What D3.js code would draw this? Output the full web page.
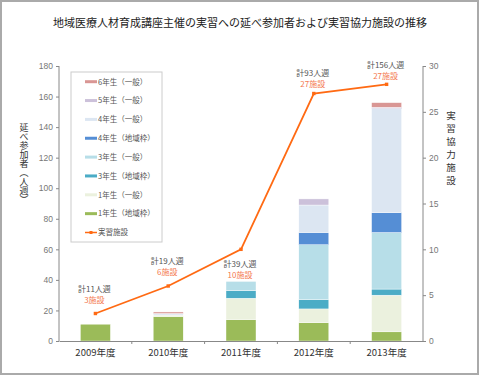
<!DOCTYPE html>
<html>
<head>
<meta charset="utf-8">
<script src="https://cdn.jsdelivr.net/npm/d3@7"></script>
<style>
  body { margin: 0; background: #fff; }
  svg { display: block; font-family: "Noto Sans CJK JP", "Noto Sans", sans-serif; }
  .vtitle { writing-mode: vertical-rl; text-orientation: upright; }
</style>
</head>
<body>
<svg id="chart" width="480" height="376"></svg>
<script>
const years = ["2009年度", "2010年度", "2011年度", "2012年度", "2013年度"];

// stacked from bottom to top
const seriesNames = ["1年生（地域枠）", "1年生（一般）", "3年生（地域枠）", "3年生（一般）",
  "4年生（地域枠）", "4年生（一般）", "5年生（一般）", "6年生（一般）"];
const g1Chiiki = [11, 16, 14, 12, 6];
const g1Ippan = [0, 1, 14, 9, 24];
const g3Chiiki = [0, 0, 5, 6, 4];
const g3Ippan = [0, 0, 6, 36, 37];
const g4Chiiki = [0, 0, 0, 8, 13];
const g4Ippan = [0, 1, 0, 18, 68];
const g5Ippan = [0, 0, 0, 4, 1];
const g6Ippan = [0, 1, 0, 0, 3];
const facilities = [3, 6, 10, 27, 28];
const totalLabels = ["計11人週", "計19人週", "計39人週", "計93人週", "計156人週"];
const facilityLabels = ["3施設", "6施設", "10施設", "27施設", "27施設"];
const leftTicks = [0, 20, 40, 60, 80, 100, 120, 140, 160, 180];
const rightTicks = [0, 5, 10, 15, 20, 25, 30];

const colors = ["#9bbb59", "#ebf1de", "#4bacc6", "#b7dee8", "#558ed5", "#dce6f2", "#ccc1da", "#d99694"];
const lineColor = "#ff6a13";
const labelOffset = [24, 25, -15, 20, 19];

const seriesValues = [g1Chiiki, g1Ippan, g3Chiiki, g3Ippan, g4Chiiki, g4Ippan, g5Ippan, g6Ippan];
let rows = years.map((y, i) => {
  let r = { year: y };
  seriesNames.forEach((s, k) => r[s] = seriesValues[k][i]);
  return r;
});

let svg = d3.select("#chart");

svg.append("rect")
  .attr("x", 1).attr("y", 1).attr("width", 477).attr("height", 373)
  .attr("fill", "#fff").attr("stroke", "#aaa").attr("stroke-width", 2);

svg.append("text")
  .attr("x", 240).attr("y", 27)
  .attr("text-anchor", "middle")
  .attr("font-size", "11px")
  .attr("fill", "#222")
  .text("地域医療人材育成講座主催の実習への延べ参加者および実習協力施設の推移");

let plotLeft = 59, plotRight = 423, plotTop = 66, plotBottom = 341;

let xScale = d3.scaleBand().domain(years).range([plotLeft, plotRight]).paddingInner(0).paddingOuter(0);
let yScale = d3.scaleLinear().domain([0, 180]).range([plotBottom, plotTop]);
let y2Scale = d3.scaleLinear().domain([0, 30]).range([plotBottom, plotTop]);
let barW = 30;

let stack = d3.stack().keys(seriesNames)(rows);

svg.append("g")
  .selectAll("g")
  .data(stack)
  .enter()
  .append("g")
  .attr("fill", (d, k) => colors[k])
  .selectAll("rect")
  .data(d => d)
  .enter()
  .append("rect")
  .attr("x", d => xScale(d.data.year) + xScale.bandwidth() / 2 - barW / 2)
  .attr("width", barW)
  .attr("y", d => yScale(d[1]))
  .attr("height", d => yScale(d[0]) - yScale(d[1]))
  .attr("stroke", "#fff")
  .attr("stroke-width", 0.4);

// axes
let axisColor = "#888";
let gl = svg.append("g")
  .attr("transform", "translate(" + plotLeft + ",0)")
  .call(d3.axisLeft(yScale).tickValues(leftTicks).tickSize(3).tickPadding(3));
let gr = svg.append("g")
  .attr("transform", "translate(" + plotRight + ",0)")
  .call(d3.axisRight(y2Scale).tickValues(rightTicks).tickSize(3).tickPadding(3));
let gx = svg.append("g")
  .attr("transform", "translate(0," + plotBottom + ")")
  .call(d3.axisBottom(xScale).tickSize(0).tickPadding(8));

[gl, gr, gx].forEach(g => {
  g.select(".domain").attr("stroke", axisColor);
  g.selectAll(".tick line").attr("stroke", axisColor);
  g.selectAll("text").attr("font-family", "Liberation Sans, sans-serif").attr("font-size", "8.5px").attr("fill", "#777");
});
gx.selectAll("text").attr("font-family", "Noto Sans CJK JP").attr("font-size", "9.5px").attr("fill", "#333");
gl.select(".domain").attr("d", "M0," + plotTop + "V" + plotBottom);
gr.select(".domain").attr("d", "M0," + plotTop + "V" + plotBottom);

// x ticks at category boundaries
svg.append("g")
  .selectAll("line")
  .data(years.slice(1))
  .enter()
  .append("line")
  .attr("x1", d => xScale(d)).attr("x2", d => xScale(d))
  .attr("y1", plotBottom).attr("y2", plotBottom + 3)
  .attr("stroke", axisColor);

// axis titles (vertical writing)
svg.append("text")
  .attr("class", "vtitle")
  .attr("x", 24).attr("y", 164)
  .attr("text-anchor", "middle")
  .attr("font-size", "9px")
  .attr("fill", "#333")
  .text("延べ参加者（人週）");

svg.append("text")
  .attr("class", "vtitle")
  .attr("x", 451).attr("y", 150)
  .attr("text-anchor", "middle")
  .attr("font-size", "9.5px")
  .attr("letter-spacing", "3.5px")
  .attr("fill", "#333")
  .text("実習協力施設");

// facility line
let cx = d => xScale(d) + xScale.bandwidth() / 2;
let line = d3.line()
  .x((d, i) => cx(years[i]))
  .y(d => y2Scale(d));

svg.append("path")
  .datum(facilities)
  .attr("d", line)
  .attr("fill", "none")
  .attr("stroke", lineColor)
  .attr("stroke-width", 1.8);

svg.selectAll(".pt")
  .data(facilities)
  .enter()
  .append("rect")
  .attr("class", "pt")
  .attr("x", (d, i) => cx(years[i]) - 1.7)
  .attr("y", d => y2Scale(d) - 1.7)
  .attr("width", 3.4).attr("height", 3.4)
  .attr("fill", lineColor);

// annotations
let ann = svg.append("g").attr("font-size", "8px").attr("text-anchor", "middle");
ann.selectAll(".tot")
  .data(totalLabels)
  .enter()
  .append("text")
  .attr("x", (d, i) => cx(years[i]) - 1)
  .attr("y", (d, i) => y2Scale(facilities[i]) - labelOffset[i] + 2.5)
  .attr("fill", "#555")
  .text(d => d);
ann.selectAll(".fac")
  .data(facilityLabels)
  .enter()
  .append("text")
  .attr("x", (d, i) => cx(years[i]) - 1)
  .attr("y", (d, i) => y2Scale(facilities[i]) - labelOffset[i] + 13.5)
  .attr("fill", "#f47a50")
  .text(d => d);

// legend
let legend = svg.append("g");
legend.append("rect")
  .attr("x", 71).attr("y", 72).attr("width", 91).attr("height", 170)
  .attr("fill", "#fff").attr("stroke", "#ccc");

let legendItems = seriesNames.map((s, k) => ({ name: s, color: colors[k], line: false })).reverse();
legendItems.push({ name: "実習施設", color: lineColor, line: true });

let li = legend.selectAll(".li")
  .data(legendItems)
  .enter()
  .append("g")
  .attr("transform", (d, i) => "translate(85," + (81.7 + i * 18.85) + ")");

li.append("line")
  .attr("x1", 0).attr("x2", 12)
  .attr("stroke", d => d.color)
  .attr("stroke-width", d => d.line ? 1.5 : 3);
li.filter(d => d.line)
  .append("rect")
  .attr("x", 4.5).attr("y", -1.5).attr("width", 3).attr("height", 3)
  .attr("fill", lineColor);
li.append("text")
  .attr("x", 13).attr("y", 2.8)
  .attr("font-size", "7.5px")
  .attr("fill", "#555")
  .text(d => d.name);
</script>
</body>
</html>
